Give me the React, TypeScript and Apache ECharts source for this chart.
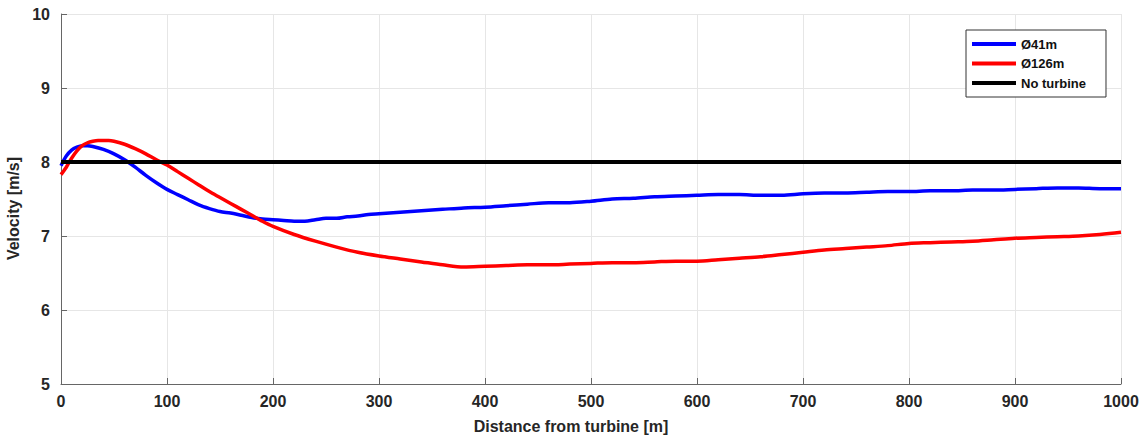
import React, { useEffect, useRef } from "react";
import * as echarts from "echarts";

const distBlue = [0, 5, 10, 15, 20, 25, 30, 40, 50, 60, 70, 80, 90, 100, 110, 120, 130, 140, 150, 160, 170, 180, 190, 200, 210, 220, 230, 240, 250, 260, 270, 280, 290, 300, 320, 340, 360, 380, 400, 420, 440, 460, 480, 500, 520, 540, 560, 580, 600, 620, 640, 660, 680, 700, 720, 740, 760, 780, 800, 820, 840, 860, 880, 900, 920, 940, 960, 980, 1000];
const velBlue = [7.95, 8.08, 8.16, 8.2, 8.22, 8.22, 8.21, 8.17, 8.11, 8.03, 7.93, 7.82, 7.72, 7.63, 7.56, 7.49, 7.42, 7.37, 7.33, 7.31, 7.28, 7.25, 7.23, 7.22, 7.21, 7.2, 7.2, 7.22, 7.24, 7.24, 7.26, 7.27, 7.29, 7.3, 7.32, 7.34, 7.36, 7.38, 7.39, 7.41, 7.43, 7.45, 7.45, 7.47, 7.5, 7.51, 7.53, 7.54, 7.55, 7.56, 7.56, 7.55, 7.55, 7.57, 7.58, 7.58, 7.59, 7.6, 7.6, 7.61, 7.61, 7.62, 7.62, 7.63, 7.64, 7.65, 7.65, 7.64, 7.64];

const distRed = [0, 5, 10, 15, 20, 25, 30, 35, 40, 45, 50, 60, 70, 80, 90, 100, 110, 120, 130, 140, 150, 160, 170, 180, 190, 200, 220, 240, 260, 280, 300, 320, 340, 360, 380, 400, 420, 440, 460, 480, 500, 520, 540, 560, 580, 600, 620, 640, 660, 680, 700, 720, 740, 760, 780, 800, 820, 840, 860, 880, 900, 920, 940, 960, 980, 1000];
const velRed = [7.83, 7.93, 8.05, 8.15, 8.22, 8.26, 8.28, 8.29, 8.29, 8.29, 8.28, 8.24, 8.18, 8.11, 8.03, 7.96, 7.87, 7.78, 7.69, 7.6, 7.52, 7.44, 7.36, 7.28, 7.2, 7.13, 7.02, 6.93, 6.85, 6.78, 6.73, 6.69, 6.65, 6.61, 6.58, 6.59, 6.6, 6.61, 6.61, 6.62, 6.63, 6.64, 6.64, 6.65, 6.66, 6.66, 6.68, 6.7, 6.72, 6.75, 6.78, 6.81, 6.83, 6.85, 6.87, 6.9, 6.91, 6.92, 6.93, 6.95, 6.97, 6.98, 6.99, 7.0, 7.02, 7.05];

const distNone = [0, 1000];
const velNone = [8, 8];

const seriesNames = ["Ø41m", "Ø126m", "No turbine"];

export default function App() {
  const ref = useRef<HTMLDivElement>(null);
  useEffect(() => {
    const chart = echarts.init(ref.current!, null, { renderer: "svg" });
    const font = "'Liberation Sans', Arial, sans-serif";
    chart.setOption({
      animation: false,
      backgroundColor: "#ffffff",
      grid: { left: 61, right: 22, top: 14, bottom: 57, containLabel: false, outerBoundsMode: "none" },
      legend: {
        data: seriesNames,
        orient: "vertical",
        right: 37,
        top: 30,
        itemWidth: 44,
        itemHeight: 4,
        itemGap: 3.5,
        padding: [6, 20, 6, 6],
        borderColor: "#333",
        borderWidth: 1,
        backgroundColor: "#fff",
        icon: "rect",
        textStyle: { fontFamily: font, fontWeight: "bold", fontSize: 13, lineHeight: 16, color: "#111" },
      },
      xAxis: {
        type: "value",
        min: 0,
        max: 1000,
        interval: 100,
        name: "Distance from turbine [m]",
        nameLocation: "middle",
        nameGap: 34,
        nameTextStyle: { fontFamily: font, fontSize: 16, fontWeight: "bold", color: "#262626", padding: [0, 40, 0, 0] },
        axisLine: { show: true, onZero: false, lineStyle: { color: "#666", width: 1 } },
        axisTick: { show: true, inside: true, length: 6, lineStyle: { color: "#666" } },
        axisLabel: { fontFamily: font, fontSize: 16, fontWeight: "bold", color: "#262626", margin: 9, formatter: (v: number) => String(v) },
        splitLine: { show: true, lineStyle: { color: "#e6e6e6", width: 1 } },
      },
      yAxis: {
        type: "value",
        min: 5,
        max: 10,
        interval: 1,
        name: "Velocity [m/s]",
        nameLocation: "middle",
        nameGap: 33,
        nameTextStyle: { fontFamily: font, fontSize: 16, fontWeight: "bold", color: "#262626", padding: [0, 19, 0, 0] },
        axisLine: { show: true, lineStyle: { color: "#666", width: 1 } },
        axisTick: { show: true, inside: true, length: 6, lineStyle: { color: "#666" } },
        axisLabel: { fontFamily: font, fontSize: 16, fontWeight: "bold", color: "#262626", margin: 11 },
        splitLine: { show: true, lineStyle: { color: "#e6e6e6", width: 1 } },
      },
      series: [
        {
          name: seriesNames[0],
          type: "line",
          data: distBlue.map((d, i) => [d, velBlue[i]]),
          showSymbol: false,
          smooth: 0.3,
          lineStyle: { color: "#0000ff", width: 3.5 },
          itemStyle: { color: "#0000ff" },
          z: 3,
        },
        {
          name: seriesNames[1],
          type: "line",
          data: distRed.map((d, i) => [d, velRed[i]]),
          showSymbol: false,
          smooth: 0.3,
          lineStyle: { color: "#ff0000", width: 3.5 },
          itemStyle: { color: "#ff0000" },
          z: 4,
        },
        {
          name: seriesNames[2],
          type: "line",
          data: distNone.map((d, i) => [d, velNone[i]]),
          showSymbol: false,
          lineStyle: { color: "#000000", width: 4 },
          itemStyle: { color: "#000000" },
          z: 5,
        },
      ],
    });
    return () => chart.dispose();
  }, []);
  return <div ref={ref} style={{ position: "absolute", left: 0, top: 0, width: 1143, height: 441 }} />;
}
